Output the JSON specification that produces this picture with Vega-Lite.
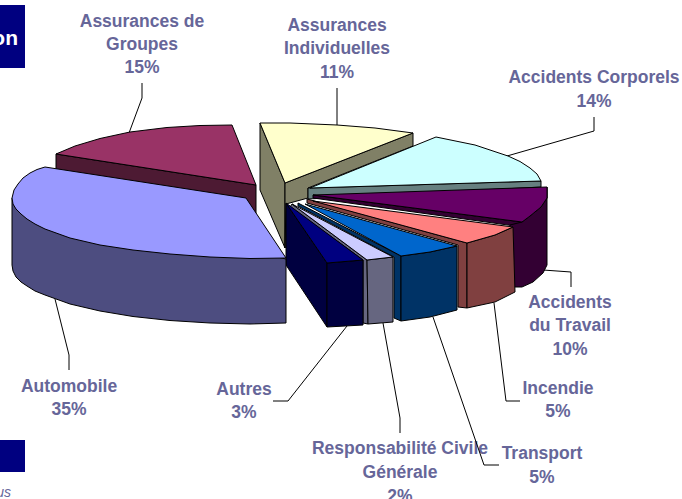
{"$schema":"https://vega.github.io/schema/vega-lite/v6.json","width":682,"height":499,"padding":0,"autosize":{"type":"none"},"background":"white","config":{"view":{"stroke":null}},
"datasets":{
"boxes":[{"x":0,"x2":25,"y":5,"y2":68},{"x":0,"x2":25,"y":440,"y2":472}],
"labels":[
{"t":"Assurances de","x":142,"y":27},{"t":"Groupes","x":142,"y":50},{"t":"15%","x":142,"y":73},
{"t":"Assurances","x":337,"y":31},{"t":"Individuelles","x":337,"y":54},{"t":"11%","x":337,"y":78},
{"t":"Accidents Corporels","x":594,"y":83},{"t":"14%","x":594,"y":107},
{"t":"Accidents","x":570,"y":308},{"t":"du Travail","x":570,"y":331},{"t":"10%","x":570,"y":355},
{"t":"Incendie","x":558,"y":394},{"t":"5%","x":558,"y":417},
{"t":"Transport","x":542,"y":459},{"t":"5%","x":542,"y":483},
{"t":"Responsabilité Civile","x":400,"y":454},{"t":"Générale","x":400,"y":478},{"t":"2%","x":400,"y":502},
{"t":"Autres","x":244,"y":395},{"t":"3%","x":244,"y":418},
{"t":"Automobile","x":69,"y":392},{"t":"35%","x":69,"y":415}],
"leaders":[
{"k":"g","s":1,"x":129,"y":133},{"k":"g","s":2,"x":142,"y":98},{"k":"g","s":3,"x":142,"y":83},
{"k":"i","s":1,"x":337,"y":125},{"k":"i","s":2,"x":337,"y":88},
{"k":"c","s":1,"x":507,"y":156},{"k":"c","s":2,"x":594,"y":131},{"k":"c","s":3,"x":594,"y":117},
{"k":"w","s":1,"x":543,"y":270},{"k":"w","s":2,"x":571,"y":272},{"k":"w","s":3,"x":571,"y":287},
{"k":"f","s":1,"x":494,"y":303},{"k":"f","s":2,"x":506,"y":401},{"k":"f","s":3,"x":520,"y":401},
{"k":"t","s":1,"x":433,"y":317},{"k":"t","s":2,"x":484,"y":465},{"k":"t","s":3,"x":499,"y":465},
{"k":"r","s":1,"x":383,"y":323},{"k":"r","s":2,"x":400,"y":418},{"k":"r","s":3,"x":400,"y":433},
{"k":"o","s":1,"x":347,"y":326},{"k":"o","s":2,"x":288,"y":401},{"k":"o","s":3,"x":273,"y":401},
{"k":"a","s":1,"x":55,"y":299},{"k":"a","s":2,"x":69,"y":355},{"k":"a","s":3,"x":69,"y":370}],
"faces":[
{"f":"01 Groupes side","s":1,"x":56,"y":154},{"f":"01 Groupes side","s":2,"x":56,"y":170},{"f":"01 Groupes side","s":3,"x":256,"y":214},{"f":"01 Groupes side","s":4,"x":256,"y":185},{"f":"01 Groupes side","s":5,"x":56,"y":154},
{"f":"02 Groupes top","s":1,"x":232,"y":125},{"f":"02 Groupes top","s":2,"x":256,"y":185},{"f":"02 Groupes top","s":3,"x":56,"y":154},{"f":"02 Groupes top","s":4,"x":75,"y":146},{"f":"02 Groupes top","s":5,"x":100,"y":138.5},{"f":"02 Groupes top","s":6,"x":130,"y":132},{"f":"02 Groupes top","s":7,"x":167,"y":127.5},{"f":"02 Groupes top","s":8,"x":200,"y":125.5},{"f":"02 Groupes top","s":9,"x":232,"y":125},
{"f":"03 Individuelles left","s":1,"x":260,"y":123},{"f":"03 Individuelles left","s":2,"x":260,"y":190},{"f":"03 Individuelles left","s":3,"x":285,"y":248},{"f":"03 Individuelles left","s":4,"x":285,"y":183},{"f":"03 Individuelles left","s":5,"x":260,"y":123},
{"f":"04 Individuelles right","s":1,"x":285,"y":183},{"f":"04 Individuelles right","s":2,"x":413,"y":133},{"f":"04 Individuelles right","s":3,"x":413,"y":146},{"f":"04 Individuelles right","s":4,"x":308,"y":188},{"f":"04 Individuelles right","s":5,"x":308,"y":198},{"f":"04 Individuelles right","s":6,"x":286,"y":204},{"f":"04 Individuelles right","s":7,"x":285,"y":248},{"f":"04 Individuelles right","s":8,"x":285,"y":183},
{"f":"05 Individuelles top","s":1,"x":260,"y":123},{"f":"05 Individuelles top","s":2,"x":285,"y":183},{"f":"05 Individuelles top","s":3,"x":413,"y":133},{"f":"05 Individuelles top","s":4,"x":375,"y":128},{"f":"05 Individuelles top","s":5,"x":337,"y":125},{"f":"05 Individuelles top","s":6,"x":290,"y":123},{"f":"05 Individuelles top","s":7,"x":260,"y":123},
{"f":"06 Corporels side","s":1,"x":308,"y":188},{"f":"06 Corporels side","s":2,"x":308,"y":199},{"f":"06 Corporels side","s":3,"x":541,"y":187},{"f":"06 Corporels side","s":4,"x":541,"y":181},{"f":"06 Corporels side","s":5,"x":308,"y":188},
{"f":"07 Corporels top","s":1,"x":436,"y":137},{"f":"07 Corporels top","s":2,"x":310,"y":188},{"f":"07 Corporels top","s":3,"x":541,"y":181},{"f":"07 Corporels top","s":4,"x":537,"y":174},{"f":"07 Corporels top","s":5,"x":530,"y":168},{"f":"07 Corporels top","s":6,"x":520,"y":161.5},{"f":"07 Corporels top","s":7,"x":508,"y":156},{"f":"07 Corporels top","s":8,"x":475,"y":145},{"f":"07 Corporels top","s":9,"x":436,"y":137},
{"f":"08 Travail strip","s":1,"x":313,"y":195},{"f":"08 Travail strip","s":2,"x":313,"y":198},{"f":"08 Travail strip","s":3,"x":522,"y":227},{"f":"08 Travail strip","s":4,"x":522,"y":222},{"f":"08 Travail strip","s":5,"x":313,"y":195},
{"f":"09 Travail side","s":1,"x":522,"y":222},{"f":"09 Travail side","s":2,"x":530,"y":216},{"f":"09 Travail side","s":3,"x":541,"y":207},{"f":"09 Travail side","s":4,"x":547,"y":198},{"f":"09 Travail side","s":5,"x":547,"y":187},{"f":"09 Travail side","s":6,"x":547,"y":265},{"f":"09 Travail side","s":7,"x":543,"y":273},{"f":"09 Travail side","s":8,"x":533,"y":282},{"f":"09 Travail side","s":9,"x":522,"y":287},{"f":"09 Travail side","s":10,"x":510,"y":287},{"f":"09 Travail side","s":11,"x":510,"y":225},{"f":"09 Travail side","s":12,"x":522,"y":222},
{"f":"10 Travail top","s":1,"x":313,"y":195},{"f":"10 Travail top","s":2,"x":547,"y":187},{"f":"10 Travail top","s":3,"x":547,"y":198},{"f":"10 Travail top","s":4,"x":541,"y":207},{"f":"10 Travail top","s":5,"x":530,"y":216},{"f":"10 Travail top","s":6,"x":522,"y":222},{"f":"10 Travail top","s":7,"x":313,"y":195},
{"f":"11 Incendie left","s":1,"x":307,"y":199},{"f":"11 Incendie left","s":2,"x":307,"y":203},{"f":"11 Incendie left","s":3,"x":458,"y":245},{"f":"11 Incendie left","s":4,"x":458,"y":307},{"f":"11 Incendie left","s":5,"x":467,"y":308},{"f":"11 Incendie left","s":6,"x":467,"y":243},{"f":"11 Incendie left","s":7,"x":307,"y":199},
{"f":"12 Incendie front","s":1,"x":467,"y":243},{"f":"12 Incendie front","s":2,"x":495,"y":235},{"f":"12 Incendie front","s":3,"x":513,"y":227},{"f":"12 Incendie front","s":4,"x":515,"y":292},{"f":"12 Incendie front","s":5,"x":495,"y":302},{"f":"12 Incendie front","s":6,"x":467,"y":308},{"f":"12 Incendie front","s":7,"x":467,"y":243},
{"f":"13 Incendie top","s":1,"x":313,"y":201},{"f":"13 Incendie top","s":2,"x":513,"y":227},{"f":"13 Incendie top","s":3,"x":495,"y":235},{"f":"13 Incendie top","s":4,"x":467,"y":243},{"f":"13 Incendie top","s":5,"x":313,"y":201},
{"f":"14 Transport left","s":1,"x":298,"y":203},{"f":"14 Transport left","s":2,"x":298,"y":206},{"f":"14 Transport left","s":3,"x":394,"y":257},{"f":"14 Transport left","s":4,"x":394,"y":318},{"f":"14 Transport left","s":5,"x":401,"y":321},{"f":"14 Transport left","s":6,"x":401,"y":256},{"f":"14 Transport left","s":7,"x":298,"y":203},
{"f":"15 Transport front","s":1,"x":401,"y":256},{"f":"15 Transport front","s":2,"x":430,"y":252},{"f":"15 Transport front","s":3,"x":457,"y":246},{"f":"15 Transport front","s":4,"x":457,"y":310},{"f":"15 Transport front","s":5,"x":430,"y":317},{"f":"15 Transport front","s":6,"x":401,"y":321},{"f":"15 Transport front","s":7,"x":401,"y":256},
{"f":"16 Transport top","s":1,"x":305,"y":204},{"f":"16 Transport top","s":2,"x":457,"y":246},{"f":"16 Transport top","s":3,"x":430,"y":252},{"f":"16 Transport top","s":4,"x":401,"y":256},{"f":"16 Transport top","s":5,"x":305,"y":204},
{"f":"17 Civile left","s":1,"x":292,"y":204},{"f":"17 Civile left","s":2,"x":290,"y":207},{"f":"17 Civile left","s":3,"x":363,"y":260},{"f":"17 Civile left","s":4,"x":363,"y":323},{"f":"17 Civile left","s":5,"x":368,"y":324},{"f":"17 Civile left","s":6,"x":367,"y":260},{"f":"17 Civile left","s":7,"x":292,"y":204},
{"f":"18 Civile front","s":1,"x":367,"y":260},{"f":"18 Civile front","s":2,"x":393,"y":257},{"f":"18 Civile front","s":3,"x":393,"y":322},{"f":"18 Civile front","s":4,"x":368,"y":324},{"f":"18 Civile front","s":5,"x":367,"y":260},
{"f":"19 Civile top","s":1,"x":292,"y":204},{"f":"19 Civile top","s":2,"x":393,"y":257},{"f":"19 Civile top","s":3,"x":367,"y":260},{"f":"19 Civile top","s":4,"x":292,"y":204},
{"f":"20 Autres left","s":1,"x":286,"y":203},{"f":"20 Autres left","s":2,"x":286,"y":265},{"f":"20 Autres left","s":3,"x":327,"y":327},{"f":"20 Autres left","s":4,"x":327,"y":263},{"f":"20 Autres left","s":5,"x":286,"y":203},
{"f":"21 Autres front","s":1,"x":327,"y":263},{"f":"21 Autres front","s":2,"x":363,"y":260},{"f":"21 Autres front","s":3,"x":363,"y":325},{"f":"21 Autres front","s":4,"x":327,"y":327},{"f":"21 Autres front","s":5,"x":327,"y":263},
{"f":"22 Autres top","s":1,"x":286,"y":203},{"f":"22 Autres top","s":2,"x":363,"y":260},{"f":"22 Autres top","s":3,"x":327,"y":263},{"f":"22 Autres top","s":4,"x":286,"y":203},
{"f":"23 Automobile side","s":1,"x":12,"y":198},{"f":"23 Automobile side","s":2,"x":12,"y":265},{"f":"23 Automobile side","s":3,"x":13,"y":271},{"f":"23 Automobile side","s":4,"x":16,"y":277},{"f":"23 Automobile side","s":5,"x":21,"y":282},{"f":"23 Automobile side","s":6,"x":27,"y":286},{"f":"23 Automobile side","s":7,"x":35,"y":291},{"f":"23 Automobile side","s":8,"x":45,"y":295},{"f":"23 Automobile side","s":9,"x":70,"y":304},{"f":"23 Automobile side","s":10,"x":100,"y":311},{"f":"23 Automobile side","s":11,"x":133,"y":316.5},{"f":"23 Automobile side","s":12,"x":170,"y":320.5},{"f":"23 Automobile side","s":13,"x":210,"y":323},{"f":"23 Automobile side","s":14,"x":250,"y":324},{"f":"23 Automobile side","s":15,"x":286,"y":323},{"f":"23 Automobile side","s":16,"x":286,"y":259},{"f":"23 Automobile side","s":17,"x":12,"y":198},
{"f":"24 Automobile top","s":1,"x":286,"y":258},{"f":"24 Automobile top","s":2,"x":246,"y":198},{"f":"24 Automobile top","s":3,"x":45,"y":167},{"f":"24 Automobile top","s":4,"x":37,"y":169.5},{"f":"24 Automobile top","s":5,"x":30,"y":173},{"f":"24 Automobile top","s":6,"x":23,"y":178},{"f":"24 Automobile top","s":7,"x":18,"y":184},{"f":"24 Automobile top","s":8,"x":14,"y":190},{"f":"24 Automobile top","s":9,"x":12,"y":198},{"f":"24 Automobile top","s":10,"x":13,"y":204},{"f":"24 Automobile top","s":11,"x":16,"y":209},{"f":"24 Automobile top","s":12,"x":21,"y":214},{"f":"24 Automobile top","s":13,"x":27,"y":219},{"f":"24 Automobile top","s":14,"x":35,"y":224},{"f":"24 Automobile top","s":15,"x":45,"y":229},{"f":"24 Automobile top","s":16,"x":70,"y":238},{"f":"24 Automobile top","s":17,"x":100,"y":245},{"f":"24 Automobile top","s":18,"x":133,"y":250},{"f":"24 Automobile top","s":19,"x":170,"y":254},{"f":"24 Automobile top","s":20,"x":210,"y":257},{"f":"24 Automobile top","s":21,"x":250,"y":258.5},{"f":"24 Automobile top","s":22,"x":286,"y":258}
]},
"encoding":{
"x":{"field":"x","type":"quantitative","scale":{"domain":[0,682],"nice":false,"zero":false},"axis":null},
"y":{"field":"y","type":"quantitative","scale":{"domain":[499,0],"nice":false,"zero":false},"axis":null}},
"layer":[
{"data":{"name":"boxes"},"mark":{"type":"rect","color":"#000080"},"encoding":{"x2":{"field":"x2"},"y2":{"field":"y2"}}},
{"data":{"values":[{"t":"on","x":18,"y":45}]},"mark":{"type":"text","font":"Liberation Sans","fontWeight":"bold","fontSize":21,"color":"white","align":"right","baseline":"alphabetic"},"encoding":{"text":{"field":"t"}}},
{"data":{"values":[{"t":"us","x":11,"y":497}]},"mark":{"type":"text","font":"Liberation Sans","fontStyle":"italic","fontSize":14,"color":"#666699","align":"right","baseline":"alphabetic"},"encoding":{"text":{"field":"t"}}},
{"data":{"name":"labels"},"mark":{"type":"text","font":"Liberation Sans","fontWeight":"bold","fontSize":17.5,"color":"#666699","align":"center","baseline":"alphabetic"},"encoding":{"text":{"field":"t"}}},
{"data":{"name":"leaders"},"mark":{"type":"line","color":"black","strokeWidth":1},"encoding":{"detail":{"field":"k"},"order":{"field":"s"}}},
{"data":{"name":"faces"},"mark":{"type":"line","filled":true,"stroke":"black","strokeWidth":1},"encoding":{"order":{"field":"s"},
"color":{"field":"f","type":"nominal","legend":null,"scale":{"domain":["01 Groupes side","02 Groupes top","03 Individuelles left","04 Individuelles right","05 Individuelles top","06 Corporels side","07 Corporels top","08 Travail strip","09 Travail side","10 Travail top","11 Incendie left","12 Incendie front","13 Incendie top","14 Transport left","15 Transport front","16 Transport top","17 Civile left","18 Civile front","19 Civile top","20 Autres left","21 Autres front","22 Autres top","23 Automobile side","24 Automobile top"],
"range":["#4D1A33","#993366","#808066","#808066","#FFFFCC","#668080","#CCFFFF","#330033","#330033","#660066","#804040","#804040","#FF8080","#003366","#003366","#0066CC","#666680","#666680","#CCCCFF","#000040","#000040","#000080","#4D4D80","#9999FF"]}}}}
]}
